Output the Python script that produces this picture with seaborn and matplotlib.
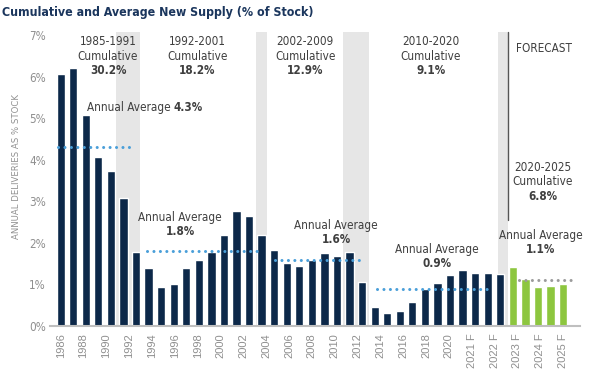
import numpy as np
import pandas as pd
import seaborn as sns
import matplotlib.pyplot as plt
from matplotlib import font_manager as fm

# ---------------------------------------------------------------------
# Data (% of stock delivered per year).
# ---------------------------------------------------------------------
years = list(range(1985, 2026))
supply = [6.07, 6.21, 5.07, 4.07, 3.74, 3.09, 1.79,
          1.39, 0.94, 1.01, 1.39, 1.59, 1.79, 2.20, 2.76, 2.65, 2.20,
          1.83, 1.52, 1.45, 1.59, 1.75, 1.69, 1.79, 1.07,
          0.46, 0.32, 0.37, 0.59, 0.88, 1.04, 1.22, 1.35, 1.27, 1.27, 1.26,
          1.41, 1.12, 0.94, 0.96, 1.00]
last_actual = 2020

tick_labels = [str(y) for y in range(1986, 2021, 2)] + [f"{y} F" for y in range(2021, 2026)]

periods = ["1985-1991", "1992-2001", "2002-2009", "2010-2020", "2020-2025"]
cumulative = ["30.2%", "18.2%", "12.9%", "9.1%", "6.8%"]
annual_avg = [4.3, 1.8, 1.6, 0.9, 1.1]

# ---------------------------------------------------------------------
# Layout (bar-index units) for annotations.
# ---------------------------------------------------------------------
avg_spans = [(-0.2, 5.7), (6.9, 15.9), (17.1, 23.9), (25.2, 34.1), (36.5, 40.8)]
shade_spans = [(4.4, 6.3), (15.55, 16.4), (22.5, 24.55), (34.8, 35.65)]
forecast_x = 35.65
cum_pos = [(3.77, 6.85), (10.86, 6.85), (19.47, 6.85), (29.48, 6.85), (38.4, 3.82)]
avg_pos = [(9.5, 2.62), (21.94, 2.43), (29.96, 1.85), (38.19, 2.19)]

navy = "#0c2849"
green = "#8dc63f"
text_col = "#3f3f3f"
tick_col = "#8f8f8f"

df = pd.DataFrame({"year": years, "supply": supply})
df["kind"] = np.where(df["year"] > last_actual, "forecast", "actual")

sns.set_theme(style="white")

# the reference uses a condensed face; pick the narrowest one installed
fonts = {(f.name, f.stretch) for f in fm.fontManager.ttflist}
if any(n == "Liberation Sans Narrow" for n, _ in fonts):
    plt.rcParams["font.family"] = ["Liberation Sans Narrow", "DejaVu Sans"]
    fs = 9.5
elif ("DejaVu Sans", "condensed") in fonts:
    plt.rcParams["font.family"] = ["DejaVu Sans"]
    plt.rcParams["font.stretch"] = "condensed"
    fs = 8.4
else:
    plt.rcParams["font.family"] = ["Liberation Sans", "DejaVu Sans"]
    fs = 8.2

fig = plt.figure(figsize=(6.06, 3.76), dpi=100)
ax = fig.add_axes([50 / 606, 50 / 376, 530 / 606, 294 / 376])

# grey period shading behind the bars
for a, b in shade_spans:
    ax.axvspan(a, b, color="#e6e6e6", lw=0, zorder=0)

sns.barplot(data=df, x="year", y="supply", hue="kind",
            palette={"actual": navy, "forecast": green},
            dodge=False, width=0.66, legend=False, ax=ax, zorder=2,
            saturation=1)

# dotted average lines
for i, ((a, b), v) in enumerate(zip(avg_spans, annual_avg)):
    col = "#9b9b9b" if i == len(annual_avg) - 1 else "#4a9fd9"
    ax.plot([a, b], [v, v], color=col, lw=2.2, dashes=(0.01, 2.1),
            dash_capstyle="round", zorder=3)

ax.set_xlim(-0.85, 41.35)
ax.set_ylim(0, 7.08)

# cumulative labels
for (x, y), p, c in zip(cum_pos, periods, cumulative):
    ax.text(x, y, p, ha="center", va="center", fontsize=fs, color=text_col)
    ax.text(x, y - 0.35, "Cumulative", ha="center", va="center", fontsize=fs, color=text_col)
    ax.text(x, y - 0.70, c, ha="center", va="center", fontsize=fs, color=text_col,
            fontweight="bold")

# annual average labels
t = ax.text(2.07, 5.27, "Annual Average", ha="left", va="center", fontsize=fs, color=text_col)
ax.annotate(f"{annual_avg[0]}%", xy=(1, 0.5), xycoords=t, xytext=(2.5, 0),
            textcoords="offset points", ha="left", va="center", fontsize=fs,
            color=text_col, fontweight="bold")
for (x, y), v in zip(avg_pos, annual_avg[1:]):
    ax.text(x, y, "Annual Average", ha="center", va="center", fontsize=fs, color=text_col)
    ax.text(x, y - 0.35, f"{v}%", ha="center", va="center", fontsize=fs,
            color=text_col, fontweight="bold")

# forecast marker
ax.plot([forecast_x, forecast_x], [2.55, 7.08], color="#555555", lw=1, zorder=3,
        clip_on=False)
ax.annotate("", xy=(41.4, 6.45), xytext=(forecast_x, 6.45),
            arrowprops=dict(arrowstyle="-|>", color="#555555", lw=1,
                            mutation_scale=10, shrinkA=0, shrinkB=0))
ax.text(36.28, 6.68, "FORECAST", ha="left", va="center", fontsize=fs, color=text_col)

# axes styling
ax.set_xticks(np.linspace(0, len(years) - 1, len(tick_labels)))
ax.set_xticklabels(tick_labels, rotation=90, fontsize=8, color=tick_col,
                   family="Liberation Sans", stretch="normal")
ax.set_yticks(range(0, 8))
ax.set_yticklabels([f"{i}%" for i in range(0, 8)], fontsize=fs, color=tick_col)
ax.tick_params(axis="both", length=0)
ax.tick_params(axis="x", pad=5)
ax.tick_params(axis="y", pad=3)
ax.set_xlabel("")
ax.set_ylabel("ANNUAL DELIVERIES AS % STOCK", fontsize=fs - 1.6, color=tick_col)
ax.yaxis.set_label_coords(-0.054, 0.543)
for s in ["top", "right", "left"]:
    ax.spines[s].set_visible(False)
ax.spines["bottom"].set_color("#bfbfbf")
ax.spines["bottom"].set_linewidth(1.5)
ax.set_facecolor("none")

fig.text(0.004, 0.985, "Cumulative and Average New Supply (% of Stock)",
         ha="left", va="top", fontsize=fs + 0.5, fontweight="bold", color="#1b365d")

fig.savefig("out.png", dpi=100)
